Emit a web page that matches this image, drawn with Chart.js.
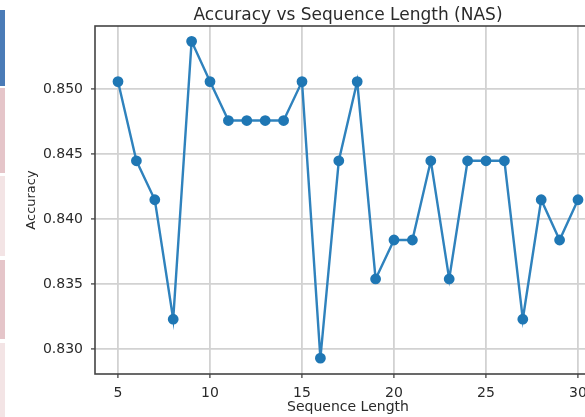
<!DOCTYPE html>
<html>
<head>
<meta charset="utf-8">
<script src="https://cdn.jsdelivr.net/npm/chart.js@4"></script>
<style>
  html, body { margin: 0; padding: 0; background: #fff; overflow: hidden; width: 585px; height: 417px; }
  #wrap { position: absolute; left: 0; top: 0; width: 610px; height: 417px; }
  .strip { position: absolute; left: 0; width: 5px; }
</style>
</head>
<body>
<div id="wrap"><canvas id="c" width="610" height="417"></canvas></div>
<div class="strip" style="top:10px;height:76px;background:#4a7bb7"></div>
<div class="strip" style="top:88px;height:85px;background:#e5c5c9"></div>
<div class="strip" style="top:176px;height:80px;background:#f3e4e5"></div>
<div class="strip" style="top:260px;height:79px;background:#e5c5c9"></div>
<div class="strip" style="top:343px;height:74px;background:#f3e4e5"></div>
<script>
const titleText = 'Accuracy vs Sequence Length (NAS)';
const xAxisLabel = 'Sequence Length';
const yAxisLabel = 'Accuracy';
const sequenceLength = [5,6,7,8,9,10,11,12,13,14,15,16,17,18,19,20,21,22,23,24,25,26,27,28,29,30];
const accuracy = [0.8506,0.8445,0.8415,0.8323,0.8537,0.8506,0.8476,0.8476,0.8476,0.8476,0.8506,0.8293,0.8445,0.8506,0.8354,0.8384,0.8384,0.8445,0.8354,0.8445,0.8445,0.8445,0.8323,0.8415,0.8384,0.8415];
const xTicks = [5,10,15,20,25,30];
const yTicks = [0.830,0.835,0.840,0.845,0.850];

const FONT = "'DejaVu Sans', sans-serif";
const TXT = '#2a2a2a';

const framePlugin = {
  id: 'frame',
  afterDatasetsDraw(chart) {
    const a = chart.chartArea, ctx = chart.ctx;
    ctx.save();
    ctx.strokeStyle = '#444';
    ctx.lineWidth = 1.6;
    ctx.strokeRect(a.left, a.top, a.right - a.left, a.bottom - a.top);
    ctx.restore();
  },
  afterDraw(chart) {
    const a = chart.chartArea, ctx = chart.ctx;
    ctx.save();
    ctx.fillStyle = TXT;
    ctx.font = "17px " + FONT;
    ctx.textAlign = 'center';
    ctx.textBaseline = 'middle';
    ctx.fillText(titleText, (a.left + a.right) / 2, 15.5);
    ctx.restore();
  }
};

new Chart(document.getElementById('c'), {
  type: 'line',
  data: {
    datasets: [{
      data: sequenceLength.map((x, i) => ({x: x, y: accuracy[i]})),
      borderColor: '#2f82bd',
      backgroundColor: '#1f77b4',
      pointBackgroundColor: '#1f77b4',
      pointBorderColor: '#1f77b4',
      borderWidth: 2.4,
      pointRadius: 4.2,
      tension: 0,
      fill: false
    }]
  },
  options: {
    responsive: false,
    animation: false,
    devicePixelRatio: 1,
    layout: { padding: { top: 26, right: 9, left: 0, bottom: 0 } },
    plugins: { legend: { display: false }, tooltip: { enabled: false }, title: { display: false } },
    scales: {
      x: {
        type: 'linear',
        min: 3.75,
        max: 31.25,
        afterBuildTicks: s => { s.ticks = xTicks.map(v => ({value: v})); },
        afterFit: s => { s.height = 43; },
        grid: { color: '#d2d2d2', lineWidth: 1.8, tickLength: 4, tickColor: '#444', tickWidth: 1.3 },
        border: { display: false },
        ticks: { color: TXT, font: { family: FONT, size: 14 }, padding: 7, maxRotation: 0, callback: v => String(v) },
        title: { display: true, text: xAxisLabel, color: TXT, font: { family: FONT, size: 14 }, padding: { top: 0, bottom: 1 } }
      },
      y: {
        type: 'linear',
        min: 0.82808,
        max: 0.85488,
        afterBuildTicks: s => { s.ticks = yTicks.map(v => ({value: v})); },
        afterFit: s => { s.width = 95; },
        grid: { color: '#d2d2d2', lineWidth: 1.8, tickLength: 4, tickColor: '#444', tickWidth: 1.3 },
        border: { display: false },
        ticks: { color: TXT, font: { family: FONT, size: 14 }, padding: 8, callback: v => v.toFixed(3) },
        title: { display: true, text: yAxisLabel, color: TXT, font: { family: FONT, size: 13 }, padding: { top: 24, bottom: 0 } }
      }
    }
  },
  plugins: [framePlugin]
});
</script>
</body>
</html>
